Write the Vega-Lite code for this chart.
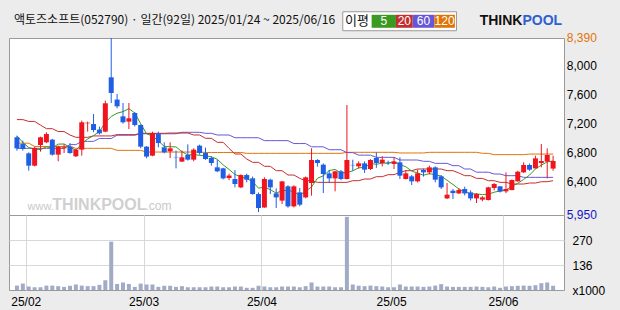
{
  "$schema": "https://vega.github.io/schema/vega-lite/v6.json",
  "padding": {"left": 8, "top": 10, "right": 19, "bottom": 3},
  "background": "#ececec",
  "config": {
    "view": {"fill": "white", "stroke": "#9a9a9a", "strokeWidth": 1},
    "axis": {"labelFont": "Liberation Sans", "labelFontSize": 12, "labelColor": "#000", "gridColor": "#d8d8d8", "gridWidth": 1}
  },
  "data": {"values": [
    {"i":0,"o":7021,"h":7044,"l":6837,"c":6869,"v":24,"m5":7040,"m20":7265,"m60":6869,"m120":6940},
    {"i":1,"o":6928,"h":6975,"l":6837,"c":6860,"v":35,"m5":6950,"m20":7265,"m60":6869,"m120":6940},
    {"i":2,"o":6800,"h":6814,"l":6561,"c":6630,"v":19,"m5":6880,"m20":7240,"m60":6869,"m120":6940},
    {"i":3,"o":6630,"h":6892,"l":6620,"c":6873,"v":15,"m5":6860,"m20":7240,"m60":6869,"m120":6895},
    {"i":4,"o":6915,"h":7030,"l":6823,"c":7021,"v":15,"m5":6851,"m20":7190,"m60":6869,"m120":6895},
    {"i":5,"o":6952,"h":7090,"l":6940,"c":7066,"v":24,"m5":6890,"m20":7140,"m60":6869,"m120":6895},
    {"i":6,"o":6989,"h":7000,"l":6768,"c":6782,"v":24,"m5":6874,"m20":7140,"m60":6869,"m120":6895},
    {"i":7,"o":6782,"h":6906,"l":6690,"c":6892,"v":21,"m5":6927,"m20":7100,"m60":6869,"m120":6895},
    {"i":8,"o":6869,"h":6928,"l":6804,"c":6883,"v":17,"m5":6929,"m20":7100,"m60":6869,"m120":6895},
    {"i":9,"o":6892,"h":6942,"l":6795,"c":6804,"v":23,"m5":6885,"m20":7053,"m60":6920,"m120":6895},
    {"i":10,"o":6759,"h":6860,"l":6750,"c":6851,"v":30,"m5":6842,"m20":7021,"m60":6920,"m120":6869},
    {"i":11,"o":6851,"h":7251,"l":6768,"c":7228,"v":24,"m5":6932,"m20":7021,"m60":6965,"m120":6869},
    {"i":12,"o":7214,"h":7237,"l":7100,"c":7222,"v":21,"m5":6998,"m20":7021,"m60":6965,"m120":6869},
    {"i":13,"o":7204,"h":7342,"l":7090,"c":7121,"v":21,"m5":7045,"m20":7040,"m60":6965,"m120":6869},
    {"i":14,"o":7127,"h":7170,"l":7060,"c":7076,"v":28,"m5":7100,"m20":7040,"m60":7005,"m120":6869},
    {"i":15,"o":7099,"h":7527,"l":7090,"c":7490,"v":53,"m5":7227,"m20":7040,"m60":7005,"m120":6869},
    {"i":16,"o":7848,"h":8390,"l":7494,"c":7632,"v":263,"m5":7308,"m20":7040,"m60":7005,"m120":6869},
    {"i":17,"o":7541,"h":7618,"l":7420,"c":7448,"v":33,"m5":7353,"m20":7058,"m60":7050,"m120":6841},
    {"i":18,"o":7310,"h":7494,"l":7210,"c":7228,"v":41,"m5":7375,"m20":7058,"m60":7050,"m120":6841},
    {"i":19,"o":7237,"h":7494,"l":7135,"c":7283,"v":33,"m5":7416,"m20":7058,"m60":7050,"m120":6841},
    {"i":20,"o":7356,"h":7370,"l":7170,"c":7191,"v":17,"m5":7356,"m20":7058,"m60":7050,"m120":6841},
    {"i":21,"o":7191,"h":7200,"l":6870,"c":6892,"v":35,"m5":7208,"m20":7076,"m60":7070,"m120":6841},
    {"i":22,"o":6892,"h":6900,"l":6731,"c":6755,"v":30,"m5":7070,"m20":7076,"m60":7070,"m120":6818},
    {"i":23,"o":6768,"h":7099,"l":6760,"c":7076,"v":30,"m5":7039,"m20":7076,"m60":7070,"m120":6818},
    {"i":24,"o":7066,"h":7099,"l":6883,"c":6942,"v":17,"m5":6971,"m20":7076,"m60":7070,"m120":6818},
    {"i":25,"o":6883,"h":6952,"l":6800,"c":6814,"v":23,"m5":6896,"m20":7076,"m60":7070,"m120":6818},
    {"i":26,"o":6828,"h":6952,"l":6735,"c":6869,"v":23,"m5":6891,"m20":7080,"m60":7070,"m120":6818},
    {"i":27,"o":6750,"h":6837,"l":6593,"c":6745,"v":17,"m5":6889,"m20":7080,"m60":7070,"m120":6818},
    {"i":28,"o":6686,"h":6837,"l":6680,"c":6745,"v":21,"m5":6823,"m20":7080,"m60":7090,"m120":6818},
    {"i":29,"o":6777,"h":6924,"l":6700,"c":6713,"v":15,"m5":6777,"m20":7080,"m60":7090,"m120":6818},
    {"i":30,"o":6713,"h":6870,"l":6690,"c":6851,"v":15,"m5":6785,"m20":7053,"m60":7090,"m120":6818},
    {"i":31,"o":6906,"h":6920,"l":6780,"c":6804,"v":15,"m5":6772,"m20":7053,"m60":7090,"m120":6818},
    {"i":32,"o":6804,"h":6879,"l":6710,"c":6722,"v":15,"m5":6767,"m20":7007,"m60":7076,"m120":6812},
    {"i":33,"o":6736,"h":6760,"l":6630,"c":6667,"v":19,"m5":6751,"m20":7007,"m60":7076,"m120":6812},
    {"i":34,"o":6607,"h":6713,"l":6540,"c":6552,"v":19,"m5":6719,"m20":6952,"m60":7053,"m120":6812},
    {"i":35,"o":6593,"h":6600,"l":6440,"c":6455,"v":15,"m5":6640,"m20":6952,"m60":7053,"m120":6812},
    {"i":36,"o":6460,"h":6520,"l":6430,"c":6494,"v":15,"m5":6578,"m20":6869,"m60":7053,"m120":6812},
    {"i":37,"o":6446,"h":6570,"l":6331,"c":6377,"v":19,"m5":6509,"m20":6791,"m60":7015,"m120":6812},
    {"i":38,"o":6331,"h":6510,"l":6320,"c":6501,"v":19,"m5":6476,"m20":6791,"m60":7015,"m120":6812},
    {"i":39,"o":6501,"h":6520,"l":6400,"c":6437,"v":12,"m5":6453,"m20":6722,"m60":7015,"m120":6800},
    {"i":40,"o":6455,"h":6480,"l":6230,"c":6239,"v":12,"m5":6410,"m20":6676,"m60":7015,"m120":6800},
    {"i":41,"o":6239,"h":6260,"l":5990,"c":6046,"v":23,"m5":6320,"m20":6676,"m60":7015,"m120":6800},
    {"i":42,"o":6055,"h":6470,"l":6050,"c":6446,"v":19,"m5":6334,"m20":6621,"m60":6975,"m120":6800},
    {"i":43,"o":6437,"h":6450,"l":6239,"c":6331,"v":15,"m5":6300,"m20":6621,"m60":6975,"m120":6800},
    {"i":44,"o":6248,"h":6317,"l":6046,"c":6193,"v":15,"m5":6251,"m20":6561,"m60":6975,"m120":6800},
    {"i":45,"o":6148,"h":6420,"l":6101,"c":6413,"v":19,"m5":6286,"m20":6561,"m60":6975,"m120":6800},
    {"i":46,"o":6345,"h":6360,"l":6050,"c":6069,"v":19,"m5":6290,"m20":6501,"m60":6975,"m120":6800},
    {"i":47,"o":6069,"h":6360,"l":6055,"c":6345,"v":19,"m5":6270,"m20":6501,"m60":6935,"m120":6800},
    {"i":48,"o":6262,"h":6322,"l":6070,"c":6092,"v":15,"m5":6222,"m20":6455,"m60":6935,"m120":6800},
    {"i":49,"o":6193,"h":6480,"l":6180,"c":6469,"v":21,"m5":6278,"m20":6423,"m60":6935,"m120":6800},
    {"i":50,"o":6391,"h":6869,"l":6217,"c":6708,"v":41,"m5":6337,"m20":6423,"m60":6890,"m120":6800},
    {"i":51,"o":6708,"h":6720,"l":6617,"c":6667,"v":19,"m5":6456,"m20":6400,"m60":6890,"m120":6800},
    {"i":52,"o":6644,"h":6660,"l":6252,"c":6515,"v":19,"m5":6490,"m20":6400,"m60":6890,"m120":6800},
    {"i":53,"o":6524,"h":6570,"l":6391,"c":6455,"v":19,"m5":6563,"m20":6400,"m60":6850,"m120":6800},
    {"i":54,"o":6455,"h":6560,"l":6276,"c":6552,"v":15,"m5":6579,"m20":6400,"m60":6850,"m120":6800},
    {"i":55,"o":6552,"h":6570,"l":6430,"c":6446,"v":15,"m5":6527,"m20":6400,"m60":6850,"m120":6800},
    {"i":56,"o":6446,"h":7466,"l":6440,"c":6708,"v":398,"m5":6535,"m20":6400,"m60":6810,"m120":6814},
    {"i":57,"o":6640,"h":6713,"l":6561,"c":6635,"v":30,"m5":6559,"m20":6423,"m60":6810,"m120":6814},
    {"i":58,"o":6621,"h":6690,"l":6590,"c":6662,"v":23,"m5":6601,"m20":6423,"m60":6775,"m120":6814},
    {"i":59,"o":6662,"h":6690,"l":6530,"c":6575,"v":21,"m5":6605,"m20":6446,"m60":6775,"m120":6814},
    {"i":60,"o":6584,"h":6720,"l":6570,"c":6708,"v":24,"m5":6658,"m20":6446,"m60":6775,"m120":6814},
    {"i":61,"o":6736,"h":6814,"l":6600,"c":6667,"v":21,"m5":6649,"m20":6478,"m60":6745,"m120":6814},
    {"i":62,"o":6667,"h":6760,"l":6620,"c":6713,"v":19,"m5":6665,"m20":6478,"m60":6745,"m120":6814},
    {"i":63,"o":6672,"h":6700,"l":6640,"c":6662,"v":15,"m5":6665,"m20":6506,"m60":6745,"m120":6814},
    {"i":64,"o":6653,"h":6745,"l":6584,"c":6686,"v":15,"m5":6687,"m20":6506,"m60":6745,"m120":6814},
    {"i":65,"o":6676,"h":6745,"l":6446,"c":6492,"v":30,"m5":6644,"m20":6538,"m60":6708,"m120":6805},
    {"i":66,"o":6446,"h":6570,"l":6440,"c":6524,"v":19,"m5":6615,"m20":6561,"m60":6708,"m120":6805},
    {"i":67,"o":6483,"h":6500,"l":6363,"c":6414,"v":19,"m5":6556,"m20":6561,"m60":6708,"m120":6805},
    {"i":68,"o":6414,"h":6575,"l":6400,"c":6524,"v":19,"m5":6528,"m20":6584,"m60":6708,"m120":6805},
    {"i":69,"o":6570,"h":6590,"l":6480,"c":6538,"v":17,"m5":6498,"m20":6584,"m60":6690,"m120":6805},
    {"i":70,"o":6538,"h":6630,"l":6510,"c":6607,"v":19,"m5":6521,"m20":6584,"m60":6690,"m120":6814},
    {"i":71,"o":6607,"h":6620,"l":6400,"c":6437,"v":24,"m5":6504,"m20":6584,"m60":6662,"m120":6814},
    {"i":72,"o":6483,"h":6500,"l":6308,"c":6331,"v":32,"m5":6487,"m20":6584,"m60":6662,"m120":6814},
    {"i":73,"o":6179,"h":6391,"l":6170,"c":6230,"v":19,"m5":6429,"m20":6561,"m60":6662,"m120":6814},
    {"i":74,"o":6285,"h":6308,"l":6170,"c":6252,"v":17,"m5":6371,"m20":6561,"m60":6630,"m120":6814},
    {"i":75,"o":6248,"h":6320,"l":6240,"c":6294,"v":17,"m5":6309,"m20":6529,"m60":6630,"m120":6814},
    {"i":76,"o":6308,"h":6340,"l":6220,"c":6248,"v":17,"m5":6271,"m20":6492,"m60":6584,"m120":6814},
    {"i":77,"o":6262,"h":6290,"l":6150,"c":6179,"v":17,"m5":6241,"m20":6492,"m60":6584,"m120":6814},
    {"i":78,"o":6179,"h":6250,"l":6115,"c":6239,"v":19,"m5":6242,"m20":6455,"m60":6540,"m120":6814},
    {"i":79,"o":6162,"h":6210,"l":6140,"c":6193,"v":17,"m5":6231,"m20":6455,"m60":6540,"m120":6800},
    {"i":80,"o":6157,"h":6340,"l":6150,"c":6331,"v":15,"m5":6238,"m20":6423,"m60":6540,"m120":6800},
    {"i":81,"o":6322,"h":6390,"l":6290,"c":6377,"v":19,"m5":6264,"m20":6423,"m60":6515,"m120":6782},
    {"i":82,"o":6345,"h":6350,"l":6260,"c":6272,"v":12,"m5":6282,"m20":6400,"m60":6515,"m120":6782},
    {"i":83,"o":6276,"h":6538,"l":6252,"c":6308,"v":19,"m5":6296,"m20":6400,"m60":6492,"m120":6782},
    {"i":84,"o":6294,"h":6440,"l":6290,"c":6432,"v":21,"m5":6344,"m20":6377,"m60":6492,"m120":6782},
    {"i":85,"o":6414,"h":6560,"l":6410,"c":6547,"v":23,"m5":6387,"m20":6377,"m60":6492,"m120":6782},
    {"i":86,"o":6538,"h":6676,"l":6530,"c":6639,"v":24,"m5":6440,"m20":6377,"m60":6469,"m120":6782},
    {"i":87,"o":6639,"h":6660,"l":6560,"c":6575,"v":23,"m5":6500,"m20":6391,"m60":6469,"m120":6790},
    {"i":88,"o":6593,"h":6768,"l":6590,"c":6731,"v":26,"m5":6585,"m20":6391,"m60":6469,"m120":6790},
    {"i":89,"o":6667,"h":6928,"l":6607,"c":6694,"v":37,"m5":6637,"m20":6409,"m60":6469,"m120":6790},
    {"i":90,"o":6686,"h":6869,"l":6455,"c":6777,"v":41,"m5":6683,"m20":6409,"m60":6469,"m120":6790},
    {"i":91,"o":6590,"h":6768,"l":6560,"c":6695,"v":23,"m5":6694,"m20":6423,"m60":6469,"m120":6790}
  ]},
  "spacing": 0,
  "bounds": "flush",
  "vconcat": [
    {
      "width": 555,
      "height": 177,
      "layer": [
        {
          "transform": [{"fold": ["m120", "m60", "m20", "m5"], "as": ["ma", "mv"]}],
          "mark": {"type": "line", "strokeWidth": 1},
          "encoding": {
            "x": {"field": "i", "type": "quantitative", "scale": {"domain": [-0.5, 92], "nice": false, "zero": false}, "axis": null},
            "y": {"field": "mv", "type": "quantitative", "scale": {"domain": [5950, 8390], "nice": false, "zero": false}, "axis": null},
            "color": {
              "field": "ma", "type": "nominal",
              "scale": {"domain": ["m5", "m20", "m60", "m120"], "range": ["#3a9a22", "#c42e2e", "#6656d8", "#e07409"]},
              "legend": null
            }
          }
        },
        {
          "mark": {"type": "rule", "strokeWidth": 1},
          "encoding": {
            "x": {"field": "i", "type": "quantitative", "scale": {"domain": [-0.5, 92], "nice": false, "zero": false},
                  "axis": {"values": [1.5, 21.5, 41.5, 63.5, 82.5], "labels": false, "ticks": false, "domain": false, "grid": true, "title": null}},
            "y": {"field": "l", "type": "quantitative", "scale": {"domain": [5950, 8390], "nice": false, "zero": false},
                  "axis": {"orient": "right", "values": [6400, 6800, 7200, 7600, 8000], "labels": false, "ticks": false, "domain": false, "grid": true, "title": null}},
            "y2": {"field": "h"},
            "color": {"condition": {"test": "datum.c >= datum.o", "value": "#f0141e"}, "value": "#1e5fe6"}
          }
        },
        {
          "mark": {"type": "bar", "size": 5},
          "encoding": {
            "x": {"field": "i", "type": "quantitative", "scale": {"domain": [-0.5, 92], "nice": false, "zero": false}, "axis": null},
            "y": {"field": "o", "type": "quantitative", "scale": {"domain": [5950, 8390], "nice": false, "zero": false}, "axis": null},
            "y2": {"field": "c"},
            "color": {"condition": {"test": "datum.c >= datum.o", "value": "#f0141e"}, "value": "#1e5fe6"}
          }
        },
        {
          "data": {"values": [
            {"p": 8390, "t": "8,390"}, {"p": 8000, "t": "8,000"}, {"p": 7600, "t": "7,600"}, {"p": 7200, "t": "7,200"},
            {"p": 6800, "t": "6,800"}, {"p": 6400, "t": "6,400"}, {"p": 5950, "t": "5,950"}
          ]},
          "mark": {"type": "text", "align": "left", "baseline": "middle", "font": "Liberation Sans", "fontSize": 12},
          "encoding": {
            "x": {"datum": 93.33, "type": "quantitative", "axis": null},
            "y": {"field": "p", "type": "quantitative", "axis": null},
            "text": {"field": "t"},
            "color": {"condition": [{"test": "datum.p == 8390", "value": "#e07409"}, {"test": "datum.p == 5950", "value": "#1414c8"}], "value": "#000000"}
          }
        },
        {
          "data": {"values": [{}]},
          "mark": {"type": "text", "align": "left", "baseline": "middle", "font": "Noto Sans CJK KR", "fontSize": 12, "color": "#111", "text": "액토즈소프트(052790) · 일간(92일) 2025/01/24 ~ 2025/06/16"},
          "encoding": {"x": {"datum": -0.5, "type": "quantitative", "axis": null}, "y": {"datum": 8634, "type": "quantitative", "axis": null}}
        },
        {
          "data": {"values": [{}]},
          "mark": {"type": "rect", "fill": "white", "stroke": "#9a9a9a", "strokeWidth": 1},
          "encoding": {"x": {"datum": 55.3, "type": "quantitative", "axis": null}, "x2": {"datum": 74.6},
                       "y": {"datum": 8752, "type": "quantitative", "axis": null}, "y2": {"datum": 8490}}
        },
        {
          "data": {"values": [{}]},
          "mark": {"type": "text", "align": "center", "baseline": "middle", "font": "Noto Sans CJK KR", "fontSize": 13, "color": "#111", "text": "이평"},
          "encoding": {"x": {"datum": 57.7, "type": "quantitative", "axis": null}, "y": {"datum": 8621, "type": "quantitative", "axis": null}}
        },
        {
          "data": {"values": [{}]},
          "mark": {"type": "rect", "fill": "#3a9a22"},
          "encoding": {"x": {"datum": 60.2, "type": "quantitative", "axis": null}, "x2": {"datum": 64.33},
                       "y": {"datum": 8710, "type": "quantitative", "axis": null}, "y2": {"datum": 8531}}
        },
        {
          "data": {"values": [{}]},
          "mark": {"type": "rect", "fill": "#c42e2e"},
          "encoding": {"x": {"datum": 64.33, "type": "quantitative", "axis": null}, "x2": {"datum": 67.17},
                       "y": {"datum": 8710, "type": "quantitative", "axis": null}, "y2": {"datum": 8531}}
        },
        {
          "data": {"values": [{}]},
          "mark": {"type": "rect", "fill": "#6656d8"},
          "encoding": {"x": {"datum": 67.17, "type": "quantitative", "axis": null}, "x2": {"datum": 70.83},
                       "y": {"datum": 8710, "type": "quantitative", "axis": null}, "y2": {"datum": 8531}}
        },
        {
          "data": {"values": [{}]},
          "mark": {"type": "rect", "fill": "#e07409"},
          "encoding": {"x": {"datum": 70.83, "type": "quantitative", "axis": null}, "x2": {"datum": 74.33},
                       "y": {"datum": 8710, "type": "quantitative", "axis": null}, "y2": {"datum": 8531}}
        },
        {
          "data": {"values": [{}]},
          "mark": {"type": "text", "align": "center", "baseline": "middle", "font": "Liberation Sans", "fontSize": 12, "color": "white", "text": "5"},
          "encoding": {"x": {"datum": 62.27, "type": "quantitative", "axis": null}, "y": {"datum": 8621, "type": "quantitative", "axis": null}}
        },
        {
          "data": {"values": [{}]},
          "mark": {"type": "text", "align": "center", "baseline": "middle", "font": "Liberation Sans", "fontSize": 12, "color": "white", "text": "20"},
          "encoding": {"x": {"datum": 65.75, "type": "quantitative", "axis": null}, "y": {"datum": 8621, "type": "quantitative", "axis": null}}
        },
        {
          "data": {"values": [{}]},
          "mark": {"type": "text", "align": "center", "baseline": "middle", "font": "Liberation Sans", "fontSize": 12, "color": "white", "text": "60"},
          "encoding": {"x": {"datum": 69.0, "type": "quantitative", "axis": null}, "y": {"datum": 8621, "type": "quantitative", "axis": null}}
        },
        {
          "data": {"values": [{}]},
          "mark": {"type": "text", "align": "center", "baseline": "middle", "font": "Liberation Sans", "fontSize": 12, "color": "white", "text": "120"},
          "encoding": {"x": {"datum": 72.58, "type": "quantitative", "axis": null}, "y": {"datum": 8621, "type": "quantitative", "axis": null}}
        },
        {
          "data": {"values": [{}]},
          "mark": {"type": "text", "align": "right", "baseline": "middle", "font": "Liberation Sans", "fontSize": 14, "fontWeight": "bold", "color": "#111", "text": "THINK"},
          "encoding": {"x": {"datum": 85.8, "type": "quantitative", "axis": null}, "y": {"datum": 8620, "type": "quantitative", "axis": null}}
        },
        {
          "data": {"values": [{}]},
          "mark": {"type": "text", "align": "left", "baseline": "middle", "font": "Liberation Sans", "fontSize": 14, "fontWeight": "bold", "color": "#2f5fd0", "text": "POOL"},
          "encoding": {"x": {"datum": 85.8, "type": "quantitative", "axis": null}, "y": {"datum": 8620, "type": "quantitative", "axis": null}}
        },
        {
          "data": {"values": [{}]},
          "mark": {"type": "text", "align": "left", "baseline": "alphabetic", "font": "Liberation Sans", "fontSize": 11, "color": "#c8c8c8", "text": "www."},
          "encoding": {"x": {"datum": 1.8, "type": "quantitative", "axis": null}, "y": {"datum": 6014, "type": "quantitative", "axis": null}}
        },
        {
          "data": {"values": [{}]},
          "mark": {"type": "text", "align": "left", "baseline": "alphabetic", "font": "Liberation Sans", "fontSize": 16, "fontWeight": "bold", "color": "#d0d0d0", "text": "THINKPOOL"},
          "encoding": {"x": {"datum": 6.0, "type": "quantitative", "axis": null}, "y": {"datum": 6014, "type": "quantitative", "axis": null}}
        },
        {
          "data": {"values": [{}]},
          "mark": {"type": "text", "align": "left", "baseline": "alphabetic", "font": "Liberation Sans", "fontSize": 12, "color": "#c8c8c8", "text": ".com"},
          "encoding": {"x": {"datum": 21.8, "type": "quantitative", "axis": null}, "y": {"datum": 6014, "type": "quantitative", "axis": null}}
        }
      ]
    },
    {
      "width": 555,
      "height": 75,
      "mark": {"type": "bar", "size": 4, "color": "#a2abc5"},
      "encoding": {
        "x": {"field": "i", "type": "quantitative", "scale": {"domain": [-0.5, 92], "nice": false, "zero": false},
              "axis": {"values": [1.5, 21.5, 41.5, 63.5, 82.5], "labelExpr": "datum.value < 2 ? '25/02' : datum.value < 22 ? '25/03' : datum.value < 42 ? '25/04' : datum.value < 64 ? '25/05' : '25/06'",
                       "ticks": false, "domain": false, "grid": true, "title": null, "labelPadding": 6, "labelOverlap": false, "labelFlush": false}},
        "y": {"field": "v", "type": "quantitative", "scale": {"domain": [0, 408], "nice": false, "zero": true},
              "axis": {"orient": "right", "values": [0, 136, 270], "labelExpr": "datum.value == 0 ? 'x1000' : datum.label", "ticks": false, "domain": false, "grid": true, "title": null,
                       "labelPadding": 8, "labelOverlap": false,
                       "gridOpacity": {"condition": {"test": "datum.value == 0", "value": 0}, "value": 1}}}
      }
    }
  ]
}
